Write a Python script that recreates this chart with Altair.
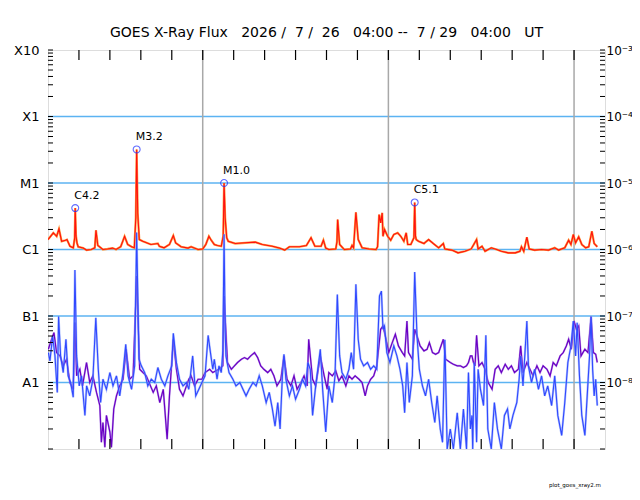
import pandas as pd
import numpy as np
import altair as alt

# --- data (hours after 7/26 04:00 UT) ---
# long channel (1-8 A), flux in units of 1e-6 W/m2
red_h = [0.0, 0.69, 1.12, 1.42, 1.76, 2.27, 2.45, 2.84, 3.27, 3.45, 3.52, 3.62, 3.75, 3.9,
         4.55, 4.98, 5.6, 6.05, 6.2, 6.44, 7.1, 7.7, 8.35, 8.8, 9.4, 9.9, 10.3, 10.8, 11.16,
         11.35, 11.46, 11.6, 11.8, 12.25, 13.3, 14.2, 14.4, 15.0, 15.7, 16.2, 16.5, 17.2,
         18.1, 18.5, 19.4, 20.0, 20.4, 20.8, 21.1, 21.5, 21.9, 22.4, 22.65, 22.76, 22.9,
         23.1, 23.3, 24.2, 25.5, 26.8, 27.7, 29.0, 29.9, 30.6, 31.2, 32.5, 33.4, 34.0, 34.5,
         35.3, 35.6, 35.9, 36.3, 37.2, 37.35, 37.44, 37.7, 38.3, 39.1, 39.3, 39.5, 39.8,
         40.1, 40.6, 41.5, 42.4, 42.6, 42.8, 43.0, 43.2, 43.3, 43.5, 43.9, 44.3, 44.7, 45.2,
         45.6, 46.0, 46.3, 46.5, 46.9, 47.3, 47.4, 47.5, 47.6, 47.9, 48.6, 48.8, 49.2, 49.8,
         50.5, 51.1, 51.3, 52.2, 53.0, 53.9, 54.7, 55.4, 55.6, 56.1, 56.5, 57.3, 58.0, 58.6,
         59.5, 60.4, 61.0, 61.2, 61.5, 61.9, 62.2, 62.9, 63.8, 64.7, 65.5, 66.0, 66.8, 67.3,
         67.6, 67.9, 68.2, 68.6, 69.0, 69.5, 69.9, 70.3, 70.6, 71.0]
red_c = [1.41, 1.78, 1.58, 2.04, 1.33, 1.38, 1.41, 1.12, 1.06, 1.5, 4.2, 1.6, 1.25, 1.10,
         1.05, 0.98, 1.0, 1.06, 1.95, 1.15, 1.0, 1.02, 1.05, 1.0, 1.10, 1.58, 1.19, 1.10, 1.06,
         3.0, 32.0, 3.5, 1.41, 1.33, 1.19, 1.23, 1.12, 1.06, 1.19, 1.62, 1.26, 1.10,
         1.05, 1.10, 1.0, 1.02, 1.19, 1.58, 1.38, 1.19, 1.15, 1.12, 1.6, 10.0, 3.0,
         1.5, 1.33, 1.23, 1.26, 1.29, 1.19, 1.12, 1.05, 0.98, 1.10, 1.10, 1.15, 1.5, 1.12,
         1.12, 1.38, 1.05, 1.0, 1.02, 1.3, 2.82, 1.19, 1.0, 1.02, 1.15, 1.06, 3.63,
         1.41, 1.06, 1.02, 1.0, 1.10, 3.35, 2.51, 3.55, 1.58, 2.0, 1.58, 1.38, 1.68, 1.78,
         1.58, 1.33, 1.78, 1.19, 1.19, 1.5, 5.1, 1.6, 1.41, 1.33, 1.23, 1.29, 1.41, 1.23,
         1.06, 1.23, 1.02, 0.98, 0.89, 0.94, 1.02, 1.41, 1.02, 1.12, 0.94, 1.06, 1.0, 0.94,
         0.89, 0.89, 0.94, 1.10, 0.94, 1.53, 1.02, 0.98, 1.0, 0.98, 1.06, 0.98, 1.06, 1.38,
         1.19, 1.68, 1.26, 1.55, 1.19, 1.06, 1.10, 1.88, 1.23, 1.10]

# short channel (0.5-4 A), flux in units of 1e-8 W/m2
blue_h = [0.04, 0.25, 0.6, 0.9, 1.2, 1.37, 1.63, 1.97, 2.32, 2.6, 2.92, 3.26, 3.48, 3.7, 4.04,
          4.34, 4.77, 4.99, 5.4, 5.8, 6.18, 6.5, 6.8, 7.1, 7.55, 8.0, 8.4, 8.85, 9.27, 9.7,
          10.05, 10.35, 10.8, 11.2, 11.46, 11.76, 12.06, 12.5, 12.9, 13.35, 13.8, 14.2, 14.65,
          15.1, 15.5, 16.0, 16.2, 16.6, 17.0, 17.45, 17.9, 18.2, 18.5, 18.7, 19.1, 19.5, 19.9,
          20.3, 20.7, 21.0, 21.3, 21.5, 21.85, 22.1, 22.4, 22.6, 22.76, 22.9, 23.0, 23.4, 23.9,
          24.3, 24.8, 25.2, 25.6, 26.0, 26.5, 26.9, 27.3, 27.7, 28.2, 28.6, 29.0, 29.35, 29.7,
          30.0, 30.3, 30.5, 30.75, 31.2, 31.6, 32.0, 32.5, 32.9, 33.3, 33.6, 33.9, 34.2, 34.6,
          35.2, 35.5, 35.9, 36.3, 36.75, 37.1, 37.4, 37.7, 38.0, 38.5, 38.9, 39.2, 39.5, 39.8,
          40.1, 40.4, 40.8, 41.3, 41.7, 42.1, 42.5, 42.85, 43.1, 43.3, 43.5, 43.8, 44.2, 44.7,
          45.1, 45.5, 45.85, 46.1, 46.4, 46.7, 47.1, 47.4, 47.7, 48.0, 48.4, 48.8, 49.2, 49.6,
          50.0, 50.3, 50.7, 51.0, 51.3, 51.6, 52.0, 52.4, 52.9, 53.3, 53.7, 54.1, 54.35, 54.6,
          54.8, 54.9, 55.1, 55.2, 55.4, 55.6, 55.9, 56.3, 56.6, 56.85, 57.3, 57.7, 58.1, 58.6,
          59.0, 59.4, 59.7, 60.1, 60.6, 60.9, 61.1, 61.4, 61.9, 62.1, 62.5, 62.9, 63.4, 63.8,
          64.2, 64.6, 65.1, 65.5, 65.9, 66.4, 66.8, 67.2, 67.6, 67.9, 68.2, 68.4, 68.7, 69.0,
          69.4, 69.7, 70.0, 70.2, 70.4, 70.6, 70.8, 71.0]
blue_a = [2.82, 2.11, 5.0, 2.51, 0.71, 9.8, 2.51, 1.41, 4.47, 1.26, 1.0, 0.60, 49.0, 2.51, 0.89,
          1.26, 0.32, 0.89, 0.63, 1.12, 9.4, 1.58, 0.5, 1.12, 0.79, 1.41, 0.89, 1.26, 0.63, 1.41,
          3.76, 1.26, 0.79, 1.78, 180.0, 2.24, 1.78, 1.41, 0.89, 1.12, 1.0, 1.68, 1.12,
          0.89, 1.26, 1.78, 5.5, 2.0, 1.12, 0.89, 1.0, 0.79, 1.58, 2.51, 0.63, 0.79, 1.0,
          1.26, 5.1, 2.82, 1.58, 2.24, 1.12, 1.78, 1.41, 3.0, 170.0, 6.0, 2.51, 1.41, 1.12,
          0.89, 1.0, 0.79, 0.63, 0.79, 1.0, 0.89, 1.26, 0.89, 0.5, 0.71, 0.40, 0.22, 0.5,
          0.2, 1.26, 2.66, 1.12, 0.63, 0.89, 0.56, 0.79, 1.12, 0.89, 2.0, 1.58, 0.32, 0.89,
          3.16, 0.79, 0.18, 0.89, 0.5, 1.26, 21.0, 2.51, 1.41, 1.12, 1.58, 2.82, 1.58, 30.0,
          4.47, 2.24, 1.78, 2.0, 1.58, 1.78, 1.58, 20.0, 23.7, 6.31, 7.08, 2.82, 2.0, 3.55,
          2.51, 1.58, 0.89, 0.35, 2.0, 0.5, 1.26, 45.7, 5.01, 1.58, 0.89, 0.63, 1.12, 0.5,
          0.25, 0.63, 0.2, 0.126, 4.4, 0.1, 0.2, 0.1, 0.35, 0.1, 0.40, 0.1, 1.41, 0.2,
          0.32, 0.1, 2.0, 0.79, 0.126, 1.58, 0.79, 0.45, 5.13, 0.2, 0.1, 0.5, 0.2, 0.1,
          0.32, 0.40, 0.2, 0.32, 0.5, 1.12, 2.51, 0.89, 8.41, 1.78, 1.0, 1.58, 0.79, 1.26,
          0.63, 0.89, 0.45, 1.26, 0.32, 0.16, 0.5, 2.0, 3.55, 8.41, 2.51, 7.94, 1.26, 0.32,
          0.16, 0.63, 2.51, 9.77, 1.58, 0.63, 1.12, 0.45]

# second short channel trace, units of 1e-8 W/m2
purple_h = [0.04, 0.47, 0.77, 1.1, 1.55, 1.97, 2.4, 2.83, 3.26, 3.48, 3.7, 4.12, 4.46, 4.98, 5.4,
            5.8, 6.27, 6.7, 6.9, 7.1, 7.35, 7.55, 8.0, 8.2, 8.5, 8.85, 9.27, 9.7, 10.1, 10.55,
            11.0, 11.46, 11.85, 12.7, 13.6, 14.0, 14.45, 14.9, 15.4, 15.7, 16.2, 16.6, 17.0,
            17.45, 17.9, 18.2, 18.5, 18.95, 19.4, 19.9, 20.3, 20.9, 21.3, 21.7, 22.1, 22.6,
            22.76, 23.2, 23.7, 24.1, 24.5, 25.0, 25.4, 25.8, 26.2, 26.7, 27.1, 27.5, 27.9, 28.4,
            28.8, 29.2, 29.6, 30.1, 30.5, 30.9, 31.4, 31.8, 32.2, 32.7, 33.1, 33.5, 33.7, 34.2,
            34.6, 35.2, 35.7, 36.1, 36.3, 36.75, 37.2, 37.6, 38.0, 38.5, 38.9, 39.3, 39.7, 40.2,
            40.6, 41.0, 41.3, 41.7, 42.1, 42.5, 43.0, 43.3, 43.6, 44.05, 44.5, 44.9, 45.3, 45.8,
            46.1, 46.4, 46.6, 47.1, 47.4, 47.7, 48.1, 48.6, 49.0, 49.3, 49.7, 50.1, 50.5, 51.1,
            51.4, 52.0, 52.4, 52.9, 53.3, 53.7, 54.1, 54.35, 54.6, 54.8, 55.0, 55.2, 55.4, 55.7,
            56.1, 56.5, 56.9, 57.4, 57.8, 58.2, 58.6, 59.1, 59.5, 59.9, 60.3, 60.8, 61.1, 61.4,
            61.9, 62.3, 62.7, 63.2, 63.6, 64.0, 64.5, 64.9, 65.3, 65.7, 66.2, 66.6, 67.0, 67.3,
            67.65, 68.0, 68.3, 68.6, 68.9, 69.4, 69.8, 70.2, 70.5, 70.8, 71.0]
purple_a = [3.16, 4.47, 5.62, 2.82, 2.51, 1.78, 2.24, 1.0, 0.79, 8.0, 1.26, 1.58, 0.89, 2.0, 1.0,
            1.26, 0.71, 0.45, 0.126, 0.25, 0.106, 0.32, 0.18, 0.106, 0.40, 0.63, 0.89, 1.12, 3.16, 1.12,
            1.26, 40.0, 1.58, 1.26, 0.71, 0.89, 0.5, 0.79, 0.14, 0.63, 4.47, 1.58, 0.79,
            0.63, 0.89, 1.12, 1.26, 0.89, 1.12, 1.12, 1.41, 1.58, 1.41, 1.50, 1.58, 1.78,
            20.0, 2.0, 1.58, 1.78, 2.0, 2.24, 2.37, 2.24, 2.51, 2.82, 2.37, 1.78, 1.58, 1.41,
            1.58, 1.26, 0.89, 1.12, 2.51, 1.12, 0.89, 1.26, 0.79, 1.0, 1.26, 0.89, 4.47, 1.12,
            0.89, 2.51, 1.26, 0.79, 1.41, 1.26, 1.50, 1.06, 1.26, 0.89, 1.26, 1.12, 1.26, 1.12,
            1.0, 0.63, 0.89, 1.12, 1.26, 1.78, 6.31, 7.08, 5.01, 2.82, 3.98, 5.31, 3.55, 2.82,
            2.51, 8.41, 2.82, 2.24, 6.31, 5.01, 3.55, 2.99, 3.16, 3.98, 2.82, 2.66, 2.82, 4.47,
            2.24, 2.0, 1.88, 1.78, 1.78, 1.68, 1.78, 2.0, 2.51, 2.51, 2.0, 1.78, 5.13, 1.78,
            2.0, 1.58, 1.0, 0.79, 1.58, 1.78, 1.41, 1.88, 1.58, 1.78, 1.41, 1.58, 3.55, 1.41,
            2.0, 1.58, 1.26, 1.78, 1.41, 1.78, 1.58, 1.26, 2.0, 1.78, 2.51, 2.82, 3.55, 4.47,
            3.16, 8.41, 6.31, 7.08, 2.51, 3.16, 2.82, 9.77, 2.82, 2.66, 2.0]

# flare peaks
flare_h = [3.52, 11.46, 22.76, 47.4]
flare_flux = [4.2e-6, 3.2e-5, 1.0e-5, 5.1e-6]
flare_lbl = ['C4.2', 'M3.2', 'M1.0', 'C5.1']

decades = [1e-8, 1e-7, 1e-6, 1e-5, 1e-4, 1e-3]
left_lbl = ['A1', 'B1', 'C1', 'M1', 'X1', 'X10']
right_lbl = ['10⁻⁸', '10⁻⁷', '10⁻⁶', '10⁻⁵', '10⁻⁴', '10⁻³']
grid_flux = [1e-8, 1e-7, 1e-6, 1e-5, 1e-4]
day_h = [20, 44, 68]
xtick_h = list(range(4, 72, 4))
minor_flux = [k * 10.0 ** e for e in range(-9, -3) for k in range(1, 10)] + [1e-3]

W, H = 557, 399
FONT = 'DejaVu Sans'
NB = '\u00a0'

red = pd.DataFrame({'h': red_h, 'flux': np.array(red_c) * 1e-6})
blue = pd.DataFrame({'h': blue_h, 'flux': np.array(blue_a) * 1e-8})
purple = pd.DataFrame({'h': purple_h, 'flux': np.array(purple_a) * 1e-8})
flares = pd.DataFrame({'h': flare_h, 'flux': flare_flux, 'lbl': flare_lbl})

xs = alt.Scale(domain=[0, 72], nice=False, zero=False)
ys = alt.Scale(type='log', domain=[1e-9, 1e-3], nice=False)

X = alt.X('h:Q', scale=xs, axis=None)
Y = alt.Y('flux:Q', scale=ys, axis=None)

lbl_map = '{' + ','.join(f'"{i}":"{t}"' for i, t in enumerate(left_lbl)) + '}'
left_axis = alt.Axis(values=decades, ticks=False, domain=False, grid=False,
                     labelExpr=f"{lbl_map}[''+(round(log(datum.value)/LN10)+8)]",
                     labelFontSize=13, labelPadding=9, labelColor='black', labelFont=FONT, title=None)
rmap = '{' + ','.join(f'"{i}":"{t}"' for i, t in enumerate(right_lbl)) + '}'
right_axis = alt.Axis(values=decades, ticks=False, domain=False, grid=False, orient='right',
                      labelExpr=f"{rmap}[''+(round(log(datum.value)/LN10)+8)]",
                      labelFontSize=12, labelPadding=1, labelColor='black', labelFont=FONT, title=None)
x_axis = alt.Axis(values=list(range(0, 73, 4)), ticks=False, domain=False, grid=False,
                  labelExpr='(datum.value + 4) % 24', labelFontSize=13, labelPadding=6,
                  labelColor='black', labelFont=FONT, labelFlush=False,
                  title='UT', titleFontSize=14, titleFontWeight='normal', titleFont=FONT,
                  titlePadding=4, titleColor='black')

gridlines = alt.Chart(pd.DataFrame({'flux': grid_flux})).mark_rule(
    color='#5cb3f2', strokeWidth=1.3).encode(y=Y)
daylines = alt.Chart(pd.DataFrame({'h': day_h})).mark_rule(
    color='#a8a8a8', strokeWidth=1.5).encode(x=X)

red_under = alt.Chart(red).mark_line(color='#ff9a3c', strokeWidth=2.2, clip=True).encode(x=X, y=Y)
red_line = alt.Chart(red).mark_line(color='#ff1010', strokeWidth=1.1, clip=True).encode(x=X, y=Y)
purple_under = alt.Chart(purple).mark_line(color='#a070e0', strokeWidth=2.0, opacity=0.6, clip=True).encode(x=X, y=Y)
purple_line = alt.Chart(purple).mark_line(color='#6a00c4', strokeWidth=1.2, clip=True).encode(x=X, y=Y)
blue_under = alt.Chart(blue).mark_line(color='#7f9bff', strokeWidth=2.2, opacity=0.6, clip=True).encode(x=X, y=Y)
blue_line = alt.Chart(blue).mark_line(color='#3048ff', strokeWidth=1.1, clip=True).encode(x=X, y=Y)

circles = alt.Chart(flares).mark_point(shape='circle', filled=False, color='#1f2fff',
                                       size=48, strokeWidth=1.1).encode(x=X, y=Y)
labels = alt.Chart(flares).mark_text(align='left', baseline='bottom', dx=-1, dy=-7,
                                     fontSize=11, font=FONT, color='black').encode(x=X, y=Y, text='lbl:N')

ticks_df = pd.DataFrame({'h': xtick_h})
xt_bot = alt.Chart(ticks_df).mark_rule(color='black', strokeWidth=1.2).encode(
    x=alt.X('h:Q', scale=xs, axis=x_axis), y=alt.value(H - 10), y2=alt.value(H))
xt_top = alt.Chart(ticks_df).mark_rule(color='black', strokeWidth=1.2).encode(
    x=X, y=alt.value(0), y2=alt.value(10))

minor_df = pd.DataFrame({'flux': minor_flux})
yt_left = alt.Chart(minor_df).mark_rule(color='black', strokeWidth=1).encode(
    y=alt.Y('flux:Q', scale=ys, axis=left_axis), x=alt.value(0), x2=alt.value(5))
yt_right = alt.Chart(minor_df).mark_rule(color='black', strokeWidth=1).encode(
    y=alt.Y('flux:Q', scale=ys, axis=right_axis), x=alt.value(W - 5), x2=alt.value(W))

credit = alt.Chart(pd.DataFrame({'t': ['plot_goes_xray2.m']})).mark_text(
    fontSize=5.5, font=FONT, color='black', align='center').encode(
    text='t:N', x=alt.value(W - 30), y=alt.value(H + 36))

title = f'GOES X-Ray Flux{NB*3}2026{NB}/{NB*2}7{NB}/{NB*2}26{NB*3}04:00{NB}--{NB*2}7{NB}/{NB}29{NB*3}04:00{NB*3}UT'

chart = alt.layer(
    gridlines, daylines, red_under, red_line, purple_under, purple_line,
    blue_under, blue_line, circles, labels, xt_bot, xt_top, yt_left, yt_right, credit
).resolve_axis(y='independent').properties(
    width=W, height=H,
    title=alt.TitleParams(title, fontSize=14, font=FONT, fontWeight='normal',
                          anchor='middle', offset=4, color='black'),
    autosize=alt.AutoSizeParams(type='none'),
    padding={'left': 40, 'top': 42, 'right': 27, 'bottom': 40},
).configure_view(stroke='black', strokeWidth=1.3).configure(background='white')

chart.save('out.html', embed_options={'renderer': 'svg', 'actions': False})
